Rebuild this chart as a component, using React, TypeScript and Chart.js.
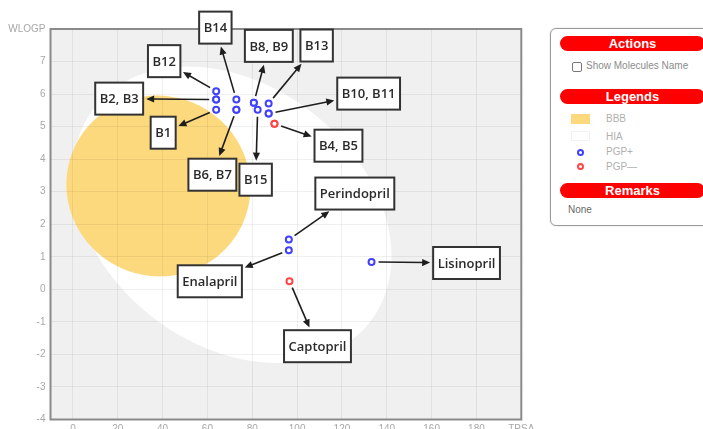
import React, { useEffect, useRef } from 'react';
import { Chart, registerables } from 'chart.js';

Chart.register(...registerables);

// ---- data ----
const molecules = ['B1', 'B2', 'B3', 'B4', 'B5', 'B6', 'B7', 'B8', 'B9', 'B10', 'B11', 'B12', 'B13', 'B14', 'B15', 'Perindopril', 'Enalapril', 'Captopril', 'Lisinopril'];
const tpsa = [63.9, 63.9, 63.9, 89.9, 89.9, 72.9, 72.9, 80.7, 80.7, 87.3, 87.3, 63.9, 87.3, 72.9, 82.4, 96.3, 96.3, 96.6, 133.2];
const wlogp = [5.52, 5.83, 5.83, 5.09, 5.09, 5.52, 5.52, 5.73, 5.73, 5.40, 5.40, 6.09, 5.71, 5.83, 5.52, 1.53, 1.20, 0.25, 0.84];
const pgp = ['+', '+', '+', '-', '-', '+', '+', '+', '+', '+', '+', '+', '+', '+', '+', '+', '+', '-', '+'];

const xTickLabelMax = 'TPSA';
const yTickLabelMax = 'WLOGP';

// BOILED-Egg ellipse model parameters (data units)
const hiaEllipse = { cx: 71.051, cy: 2.292, rx: 71.0405, ry: 4.37, angleDeg: -1.031 };
const bbbEllipse = { cx: 38.117, cy: 3.177, rx: 41.0305, ry: 2.7785, angleDeg: -0.066 };

// callout labels (text, anchor molecule)
const calloutTexts = ['B12', 'B2, B3', 'B1', 'B14', 'B6, B7', 'B8, B9', 'B15', 'B13', 'B10, B11', 'B4, B5', 'Perindopril', 'Enalapril', 'Captopril', 'Lisinopril'];
const calloutAnchors = ['B12', 'B2', 'B1', 'B14', 'B6', 'B8', 'B15', 'B13', 'B10', 'B4', 'Perindopril', 'Enalapril', 'Captopril', 'Lisinopril'];
// layout: box centre offset from the point, in px
const calloutOffsets: [number, number][] = [
  [-52, -30], [-97, -1], [-53, 23], [-21, -72], [-24, 65], [15, -57], [-2, 70],
  [48, -58], [100, -20], [64, 22], [66, -46], [-79, 31], [28, 65], [95, 1],
];

const BLUE = '#4040ff';
const RED = '#ff4545';
const YOLK = '#fdd97d';

function drawEllipse(ctx: CanvasRenderingContext2D, xs: any, ys: any, e: any, color: string) {
  const th = (e.angleDeg * Math.PI) / 180;
  ctx.beginPath();
  for (let i = 0; i <= 360; i++) {
    const t = (i * Math.PI) / 180;
    const dx = e.rx * Math.cos(t);
    const dy = e.ry * Math.sin(t);
    const X = e.cx + dx * Math.cos(th) - dy * Math.sin(th);
    const Y = e.cy + dx * Math.sin(th) + dy * Math.cos(th);
    const px = xs.getPixelForValue(X);
    const py = ys.getPixelForValue(Y);
    if (i === 0) ctx.moveTo(px, py);
    else ctx.lineTo(px, py);
  }
  ctx.closePath();
  ctx.fillStyle = color;
  ctx.fill();
}

const eggPlugin = {
  id: 'egg',
  beforeDraw(chart: any) {
    const { ctx, chartArea: a, scales } = chart;
    ctx.save();
    ctx.fillStyle = '#f0f0f0';
    ctx.fillRect(a.left, a.top, a.right - a.left, a.bottom - a.top);
    ctx.beginPath();
    ctx.rect(a.left, a.top, a.right - a.left, a.bottom - a.top);
    ctx.clip();
    drawEllipse(ctx, scales.x, scales.y, hiaEllipse, '#ffffff');
    drawEllipse(ctx, scales.x, scales.y, bbbEllipse, YOLK);
    ctx.restore();
  },
  beforeDatasetsDraw(chart: any) {
    const { ctx, chartArea: a } = chart;
    ctx.save();
    ctx.strokeStyle = '#8a8a8a';
    ctx.lineWidth = 2;
    ctx.strokeRect(a.left, a.top, a.right - a.left, a.bottom - a.top);
    ctx.restore();
  },
  afterDraw(chart: any) {
    const { ctx, scales } = chart;
    ctx.save();
    ctx.font = '600 13px "Open Sans", sans-serif';
    ctx.textAlign = 'center';
    ctx.textBaseline = 'middle';
    calloutTexts.forEach((text, k) => {
      const idx = molecules.indexOf(calloutAnchors[k]);
      const px = scales.x.getPixelForValue(tpsa[idx]);
      const py = scales.y.getPixelForValue(wlogp[idx]);
      const [ox, oy] = calloutOffsets[k];
      const cx = px + ox;
      const cy = py + oy;
      const w = ctx.measureText(text).width + 9;
      const h = 32;
      const len = Math.hypot(ox, oy);
      const ux = ox / len;
      const uy = oy / len;
      const hw = w / 2;
      const hh = h / 2;
      const s = Math.min(ux !== 0 ? hw / Math.abs(ux) : Infinity, uy !== 0 ? hh / Math.abs(uy) : Infinity);
      const sx = px + ux * 7;
      const sy = py + uy * 7;
      const ex = cx - ux * (s + 3);
      const ey = cy - uy * (s + 3);
      const head = 8;
      ctx.strokeStyle = '#1e1e1e';
      ctx.fillStyle = '#1e1e1e';
      ctx.lineWidth = 1.6;
      ctx.beginPath();
      ctx.moveTo(sx, sy);
      ctx.lineTo(ex - ux * head * 0.8, ey - uy * head * 0.8);
      ctx.stroke();
      ctx.beginPath();
      ctx.moveTo(ex, ey);
      ctx.lineTo(ex - ux * head - uy * 3.6, ey - uy * head + ux * 3.6);
      ctx.lineTo(ex - ux * head + uy * 3.6, ey - uy * head - ux * 3.6);
      ctx.closePath();
      ctx.fill();
      // box
      ctx.fillStyle = '#ffffff';
      ctx.fillRect(cx - hw, cy - hh, w, h);
      ctx.lineWidth = 2;
      ctx.strokeStyle = '#333333';
      ctx.strokeRect(cx - hw, cy - hh, w, h);
      ctx.fillStyle = '#2a2a2a';
      ctx.fillText(text, cx, cy + 1);
    });
    ctx.restore();
  },
};

function Panel() {
  const pill = (top: number, text: string) => (
    <div
      style={{
        position: 'absolute', left: 9, top, width: 145, height: 15, borderRadius: 8,
        background: '#ff0000', color: '#fff', fontWeight: 'bold', fontSize: 13,
        lineHeight: '15px', textAlign: 'center', fontFamily: '"Liberation Sans", Arial, sans-serif',
      }}
    >
      {text}
    </div>
  );
  const small = { position: 'absolute' as const, fontSize: 10, lineHeight: '12px', fontFamily: '"Liberation Sans", Arial, sans-serif' };
  return (
    <div
      style={{
        position: 'absolute', left: 550, top: 28, width: 160, height: 198, boxSizing: 'border-box',
        border: '1px solid #9a9a9a', borderRadius: 6, background: '#fff',
        boxShadow: '0 0 2px rgba(0,0,0,0.15)',
      }}
    >
      {pill(7, 'Actions')}
      <div style={{ position: 'absolute', left: 21, top: 33, width: 8, height: 8, border: '1px solid #777', borderRadius: 2 }} />
      <div style={{ ...small, left: 35, top: 31, color: '#8c8c8c' }}>Show Molecules Name</div>
      {pill(60, 'Legends')}
      <div style={{ position: 'absolute', left: 20, top: 85, width: 19, height: 10, background: YOLK }} />
      <div style={{ ...small, left: 55, top: 84, color: '#b0b0b0' }}>BBB</div>
      <div style={{ position: 'absolute', left: 20, top: 102, width: 19, height: 10, background: '#fff', border: '1px solid #f2f2f2', boxSizing: 'border-box' }} />
      <div style={{ ...small, left: 55, top: 102, color: '#b0b0b0' }}>HIA</div>
      <div style={{ position: 'absolute', left: 26, top: 120, width: 7, height: 7, borderRadius: '50%', border: `2px solid ${BLUE}`, boxSizing: 'border-box' }} />
      <div style={{ ...small, left: 55, top: 117, color: '#b0b0b0' }}>PGP+</div>
      <div style={{ position: 'absolute', left: 26, top: 134, width: 7, height: 7, borderRadius: '50%', border: `2px solid ${RED}`, boxSizing: 'border-box' }} />
      <div style={{ ...small, left: 55, top: 132, color: '#b0b0b0' }}>PGP—</div>
      {pill(154, 'Remarks')}
      <div style={{ ...small, left: 17, top: 175, color: '#6a6a6a' }}>None</div>
    </div>
  );
}

export default function App() {
  const ref = useRef<HTMLCanvasElement>(null);
  useEffect(() => {
    const toPts = (sign: string) =>
      molecules.map((_, i) => ({ x: tpsa[i], y: wlogp[i] })).filter((_, i) => pgp[i] === sign);
    const tickFont = { family: '"Liberation Sans", Arial, sans-serif', size: 10 };
    const chart = new Chart(ref.current!, {
      type: 'scatter',
      data: {
        datasets: [
          { label: 'PGP+', data: toPts('+'), pointRadius: 3, pointBorderWidth: 2, pointBorderColor: BLUE, pointBackgroundColor: '#fff', pointHoverRadius: 3 },
          { label: 'PGP—', data: toPts('-'), pointRadius: 3, pointBorderWidth: 2, pointBorderColor: RED, pointBackgroundColor: '#fff', pointHoverRadius: 3 },
        ],
      },
      options: {
        responsive: false,
        animation: false,
        devicePixelRatio: 1,
        layout: { padding: { top: 29, right: 18.7, left: 0, bottom: 0 } },
        plugins: { legend: { display: false }, tooltip: { enabled: false } },
        scales: {
          x: {
            type: 'linear', min: -10, max: 200,
            ticks: {
              stepSize: 20, includeBounds: false, color: '#a8a8a8', font: tickFont, padding: 4, maxRotation: 0,
              callback: (v: any) => (v === 200 ? xTickLabelMax : v),
            },
            grid: { color: 'rgba(0,0,0,0.06)', drawTicks: false },
            border: { display: false },
            afterFit: (s: any) => { s.height = 30.5; },
          },
          y: {
            type: 'linear', min: -4, max: 8,
            ticks: {
              stepSize: 1, color: '#a8a8a8', font: tickFont, padding: 5,
              callback: (v: any) => (v === 8 ? yTickLabelMax : v),
            },
            grid: { color: 'rgba(0,0,0,0.06)', drawTicks: false },
            border: { display: false },
            afterFit: (s: any) => { s.width = 50.5; },
          },
        },
      } as any,
      plugins: [eggPlugin],
    });
    return () => chart.destroy();
  }, []);
  return (
    <div style={{ position: 'fixed', left: 0, top: 0, width: 703, height: 429, overflow: 'hidden', background: '#fff' }}>
      <canvas ref={ref} width={540} height={450} style={{ position: 'absolute', left: 0, top: 0, width: 540, height: 450 }} />
      <Panel />
    </div>
  );
}
